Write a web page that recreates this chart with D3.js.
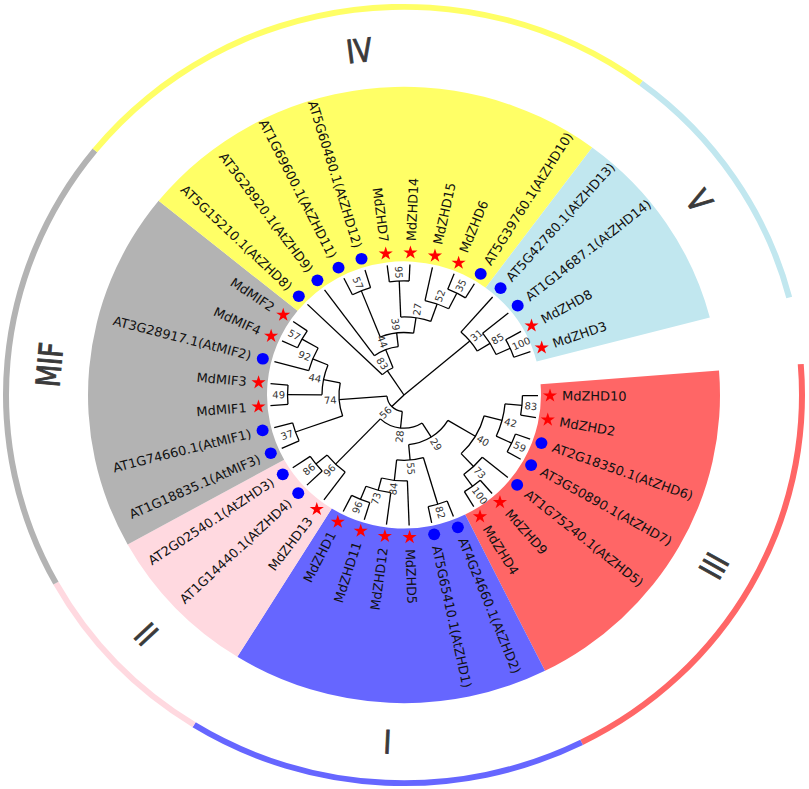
<!DOCTYPE html>
<html>
<head>
<meta charset="utf-8">
<script src="https://cdn.jsdelivr.net/npm/d3@7"></script>
<style>
body { margin: 0; background: #fff; }
svg { display: block; }
</style>
</head>
<body>
<svg id="chart" width="809" height="789" viewBox="0 0 809 809" preserveAspectRatio="none"></svg>
<script>
// leaves, clockwise from the gap at 3 o'clock
var leafNames = [
    "MdZHD10", "MdZHD2", "AT2G18350.1(AtZHD6)", "AT3G50890.1(AtZHD7)", "AT1G75240.1(AtZHD5)",
    "MdZHD9", "MdZHD4",
    "AT4G24660.1(AtZHD2)", "AT5G65410.1(AtZHD1)", "MdZHD5", "MdZHD12", "MdZHD11", "MdZHD1",
    "MdZHD13", "AT1G14440.1(AtZHD4)", "AT2G02540.1(AtZHD3)",
    "AT1G18835.1(AtMIF3)", "AT1G74660.1(AtMIF1)", "MdMIF1", "MdMIF3", "AT3G28917.1(AtMIF2)", "MdMIF4", "MdMIF2",
    "AT5G15210.1(AtZHD8)", "AT3G28920.1(AtZHD9)", "AT1G69600.1(AtZHD11)", "AT5G60480.1(AtZHD12)",
    "MdZHD7", "MdZHD14", "MdZHD15", "MdZHD6", "AT5G39760.1(AtZHD10)",
    "AT5G42780.1(AtZHD13)", "AT1G14687.1(AtZHD14)", "MdZHD8", "MdZHD3"
];
var leafParent = [
    "n83b", "n83b", "n59", "n59", "n73b", "n100b", "n100b",
    "n82", "n82", "n84", "n73a", "n96b", "n96b",
    "n96a", "n86", "n86",
    "n37", "n37", "n49", "n49", "n92", "n57b", "n57b",
    "n83", "n44a", "n57a", "n57a", "n95", "n95", "n52", "n35", "n35",
    "n31", "n85", "n100v", "n100v"
];

// internal nodes: id, parent, bootstrap, distance from root (leaf tips = 1)
var nodeIds     = ["root", "n31", "n85", "n100v", "n83", "n44a", "n39", "n57a", "n27", "n95", "n52", "n35",
                   "n56", "n74", "n44b", "n92", "n57b", "n49", "n37", "n28", "n96a", "n86", "n29",
                   "n55", "n84", "n73a", "n96b", "n82", "n40", "n42", "n83b", "n59", "n73b", "n100b"];
var nodeParent  = [null, "root", "n31", "n85", "root", "n83", "n44a", "n39", "n39", "n27", "n27", "n52",
                   "root", "n56", "n74", "n44b", "n92", "n44b", "n74", "n56", "n28", "n96a", "n28",
                   "n29", "n55", "n84", "n73a", "n55", "n29", "n40", "n42", "n42", "n40", "n73b"];
var nodeSupport = [null, 31, 85, 100, 83, 44, 39, 57, 27, 95, 52, 35,
                   56, 74, 44, 92, 57, 49, 37, 28, 96, 86, 29,
                   55, 84, 73, 96, 82, 40, 42, 83, 59, 73, 100];
var nodeDist    = [0, 0.642, 0.754, 0.869, 0.224, 0.373, 0.478, 0.858, 0.597, 0.873, 0.739, 0.873,
                   0.127, 0.485, 0.612, 0.735, 0.873, 0.869, 0.858, 0.254, 0.735, 0.843, 0.381,
                   0.500, 0.657, 0.754, 0.862, 0.873, 0.619, 0.757, 0.884, 0.884, 0.754, 0.866];

// clades, in the same clockwise order
var groupNames = ["III", "I", "II", "MIF", "IV", "V"];
var groupSizes = [7, 6, 3, 7, 9, 4];

var groupColors = {
    "III": "#ff6666", "I": "#6666ff", "II": "#ffd9e0",
    "MIF": "#b3b3b3", "IV": "#ffff66", "V": "#c1e7ef"
};

var svg = d3.select("#chart"),
    g = svg.append("g").attr("transform", "translate(404,405)"),
    startDeg = 85.44,
    arcDeg = 350,
    rad = Math.PI / 180;

var band = d3.scaleBand().domain(leafNames).range([startDeg, startDeg + arcDeg]),
    step = band.bandwidth(),
    rScale = d3.scaleLinear().domain([0, 1]).range([0, 134]);

function leafAngle(name) {
    return band(name) + step / 2;
}

// build the tree
var nodes = {};
nodeIds.forEach(function(id, i) {
    nodes[id] = {id: id, parent: nodeParent[i], support: nodeSupport[i], dist: nodeDist[i], children: []};
});
leafNames.forEach(function(name, i) {
    nodes[name] = {id: name, parent: leafParent[i], leaf: true, dist: 1, children: []};
});
Object.keys(nodes).forEach(function(k) {
    var n = nodes[k];
    if (n.parent) nodes[n.parent].children.push(n);
});

function setAngle(n) {
    if (n.leaf) {
        n.angle = leafAngle(n.id);
    } else {
        var a = n.children.map(setAngle);
        n.minA = d3.min(a);
        n.maxA = d3.max(a);
        n.angle = (n.minA + n.maxA) / 2;
    }
    return n.angle;
}
setAngle(nodes.root);

// coloured clade wedges + outer ring
var wedge = d3.arc(),
    offset = 0;
groupNames.forEach(function(name, i) {
    var first = leafNames[offset],
        last = leafNames[offset + groupSizes[i] - 1],
        a0 = band(first),
        a1 = band(last) + step;
    offset += groupSizes[i];

    g.append("path")
        .attr("d", wedge({innerRadius: 137, outerRadius: 316, startAngle: a0 * rad, endAngle: a1 * rad}))
        .attr("fill", groupColors[name]);
    g.append("path")
        .attr("d", wedge({innerRadius: 395, outerRadius: 401, startAngle: a0 * rad, endAngle: a1 * rad}))
        .attr("fill", groupColors[name]);

    var mid = (a0 + a1) / 2,
        m = ((mid % 360) + 360) % 360,
        p = d3.pointRadial(mid * rad, 356),
        rot = (m > 90 && m < 270) ? mid - 180 : mid;
    g.append("text")
        .attr("transform", "translate(" + p[0] + "," + p[1] + ") rotate(" + rot + ") scale(0.8,1)")
        .attr("text-anchor", "middle")
        .attr("dy", "0.36em")
        .attr("font-family", "DejaVu Sans")
        .attr("font-size", 33)
        .attr("fill", "#3a3a3a")
        .attr("stroke", "#3a3a3a")
        .attr("stroke-width", 1)
        .text(name);
});

// branches
var lines = g.append("g")
    .attr("fill", "none")
    .attr("stroke", "#000")
    .attr("stroke-width", 1.3);

Object.keys(nodes).forEach(function(k) {
    var n = nodes[k];
    if (n.parent) {
        var r0 = rScale(nodes[n.parent].dist),
            r1 = rScale(n.dist),
            p0 = d3.pointRadial(n.angle * rad, r0),
            p1 = d3.pointRadial(n.angle * rad, r1),
            pth = d3.path();
        pth.moveTo(p0[0], p0[1]);
        pth.lineTo(p1[0], p1[1]);
        lines.append("path").attr("d", pth.toString());
    }
    if (!n.leaf && n.dist > 0) {
        var arcP = d3.path();
        arcP.arc(0, 0, rScale(n.dist), n.minA * rad - Math.PI / 2, n.maxA * rad - Math.PI / 2);
        lines.append("path").attr("d", arcP.toString());
    }
});

function radialTransform(a, r) {
    var m = ((a % 360) + 360) % 360,
        left = m > 180;
    return {
        t: "rotate(" + (a - 90) + ") translate(" + r + ",0)" + (left ? " rotate(180)" : ""),
        anchor: left ? "end" : "start"
    };
}

// bootstrap values
nodeIds.forEach(function(id) {
    var n = nodes[id];
    if (n.support == null) return;
    var tr = radialTransform(n.angle, rScale(n.dist) + 2.5);
    g.append("text")
        .attr("transform", tr.t)
        .attr("text-anchor", tr.anchor)
        .attr("dy", "0.36em")
        .attr("font-family", "DejaVu Sans")
        .attr("font-size", 10)
        .attr("fill", "#333")
        .text(n.support);
});

// leaf markers and labels
var star = d3.symbol().type(d3.symbolStar).size(62);
leafNames.forEach(function(name) {
    var a = leafAngle(name),
        p = d3.pointRadial(a * rad, 146);
    if (name.indexOf("Md") === 0) {
        g.append("path")
            .attr("transform", "translate(" + p[0] + "," + p[1] + ")")
            .attr("d", star())
            .attr("fill", "#ff0000");
    } else {
        g.append("circle")
            .attr("cx", p[0])
            .attr("cy", p[1])
            .attr("r", 6)
            .attr("fill", "#0000ff");
    }
    var tr = radialTransform(a, 158);
    g.append("text")
        .attr("transform", tr.t)
        .attr("text-anchor", tr.anchor)
        .attr("dy", "0.36em")
        .attr("font-family", "DejaVu Sans")
        .attr("font-size", 13)
        .attr("fill", "#111")
        .text(name);
});
</script>
</body>
</html>
